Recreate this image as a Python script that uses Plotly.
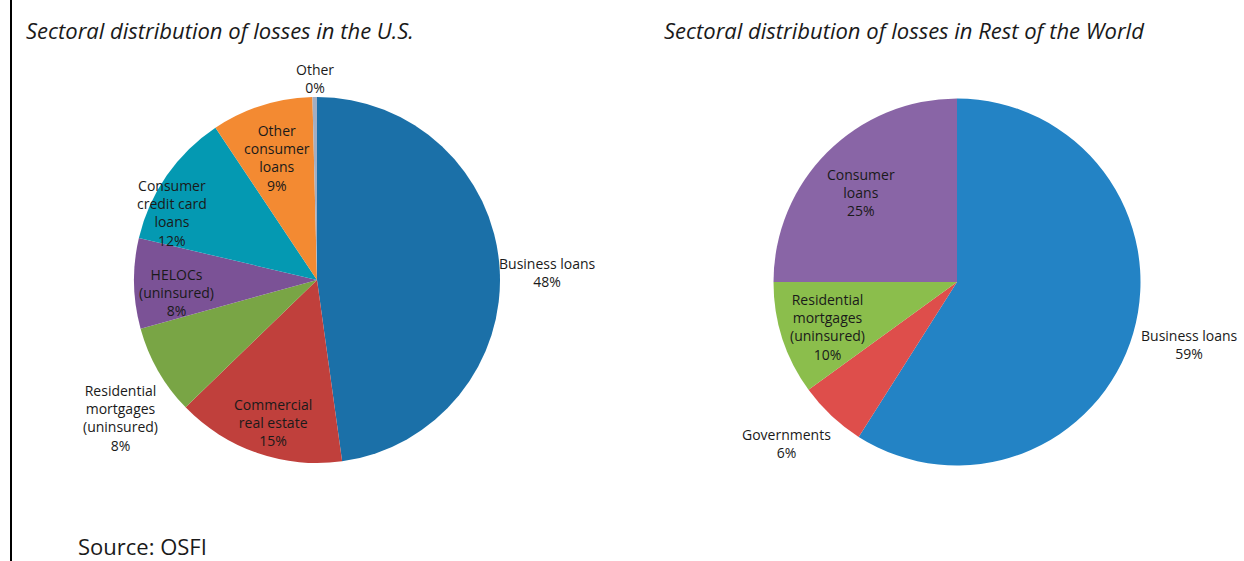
import math
import plotly.graph_objects as go

# U.S. loss distribution by sector (share, %), clockwise from 12 o'clock
us_labels = ["Business loans", "Commercial<br>real estate", "Residential<br>mortgages<br>(uninsured)",
             "HELOCs<br>(uninsured)", "Consumer<br>credit card<br>loans", "Other<br>consumer<br>loans", "Other"]
us_values = [48, 15, 8, 8, 12, 9, 0.4]
us_colors = ["#1B70A8", "#C0403C", "#79A545", "#7B5296", "#0499B2", "#F38A32", "#A3AEC2"]

# Rest of the World loss distribution by sector (share, %)
row_labels = ["Business loans", "Governments", "Residential<br>mortgages<br>(uninsured)", "Consumer<br>loans"]
row_values = [59, 6, 10, 25]
row_colors = ["#2383C5", "#DE4E4B", "#8BBE4C", "#8965A6"]

titles = ["Sectoral distribution of losses in the U.S.", "Sectoral distribution of losses in Rest of the World"]
source = "Source: OSFI"

FONT = "Open Sans"
TEXT = "#1a1a1a"
W, H = 1244, 561

# pie geometry in pixels: centre x, centre y, radius
US_PIE = (317, 280, 183)
ROW_PIE = (957, 282, 183.5)

# label placement: radial factor (fraction of radius) and pixel nudges
us_label_k = [1.26, 0.80, 1.30, 0.76, 0.87, 0.73, 1.10]
us_label_nudge = [(0, 8), (4, 4), (10, 20), (-1, 10), (-14, 24), (0, 5), (1, 0)]
row_label_k = [1.30, 1.28, 0.74, 0.72]
row_label_nudge = [(3, -4), (-10, -10), (0, 3), (-3, 4)]


def pie_domain(cx, cy, r):
    return dict(x=[(cx - r) / W, (cx + r) / W], y=[1 - (cy + r) / H, 1 - (cy - r) / H])


fig = go.Figure()


def add_pie(labels, values, colors, geom, ks, nudges):
    cx, cy, r = geom
    fig.add_trace(go.Pie(
        labels=labels, values=values, marker=dict(colors=colors, line=dict(width=0)),
        sort=False, direction="clockwise", rotation=0,
        textinfo="none", showlegend=False, hoverinfo="label+percent",
        domain=pie_domain(cx, cy, r),
    ))
    total = sum(values)
    cum = 0.0
    for lab, v, k, (dx, dy) in zip(labels, values, ks, nudges):
        mid = (cum + v / 2) / total * 2 * math.pi
        cum += v
        px = cx + k * r * math.sin(mid) + dx
        py = cy - k * r * math.cos(mid) + dy
        pct = round(v / total * 100)
        fig.add_annotation(
            text=f"{lab}<br>{pct}%", x=px / W, y=1 - py / H, xref="paper", yref="paper",
            xanchor="center", yanchor="middle", align="center", showarrow=False,
            font=dict(family=FONT, size=14, color=TEXT),
        )


add_pie(us_labels, us_values, us_colors, US_PIE, us_label_k, us_label_nudge)
add_pie(row_labels, row_values, row_colors, ROW_PIE, row_label_k, row_label_nudge)

for t, x0 in zip(titles, [24, 662]):
    fig.add_annotation(text=t, x=x0 / W, y=1 - 30 / H, xref="paper", yref="paper",
                       xanchor="left", yanchor="middle", showarrow=False,
                       font=dict(family=FONT, size=22, color=TEXT, style="italic"))

fig.add_annotation(text=source, x=76 / W, y=1 - 546 / H, xref="paper", yref="paper",
                   xanchor="left", yanchor="middle", showarrow=False,
                   font=dict(family=FONT, size=22, color=TEXT))

# left frame rule
fig.add_shape(type="line", xref="paper", yref="paper", x0=11 / W, x1=11 / W, y0=0, y1=1,
              line=dict(color="#000000", width=2))

fig.update_layout(
    width=W, height=H,
    margin=dict(l=0, r=0, t=0, b=0),
    paper_bgcolor="white", plot_bgcolor="white",
    font=dict(family=FONT),
)

fig.write_html("out.html")
